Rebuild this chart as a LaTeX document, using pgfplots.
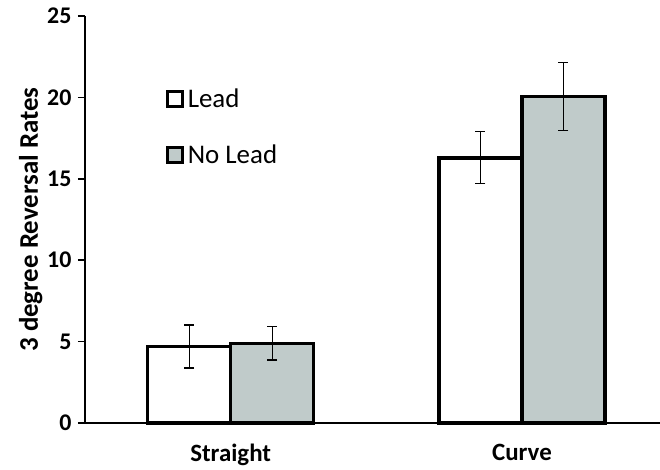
\documentclass[border=0pt]{standalone}
\usepackage{pgfplots}
\pgfplotsset{compat=1.18}
\usepackage{fontspec}
\setmainfont{Carlito}
\definecolor{nolead}{RGB}{192,203,202}
\begin{document}
\begin{tikzpicture}
\path[use as bounding box] (-85bp,-47bp) rectangle (575bp,423bp);
\begin{axis}[
  scale only axis,
  width=575bp, height=407bp,
  at={(0,0)}, anchor=south west,
  xmin=-0.5, xmax=1.474,
  ymin=0, ymax=25,
  ytick={0,5,10,15,20,25},
  xtick={0,1},
  xticklabels={Straight,Curve},
  major x tick style={draw=none},
  extra x ticks={-0.5,0.5},
  extra x tick labels={},
  extra x tick style={major tick length=7bp, tick style={draw=black, line width=1.5bp}},
  axis x line=bottom, axis y line=left,
  axis line style={-, line width=1.8bp},
  tick align=outside,
  major tick length=7bp,
  tick style={line width=1.5bp, black},
  ybar=0pt, bar width=83bp,
  yticklabel={\textbf{\pgfmathprintnumber{\tick}}},
  ticklabel style={font=\fontsize{24}{28}\selectfont\bfseries},
  yticklabel style={xshift=-3bp},
  xticklabel style={yshift=-11bp, font=\fontsize{25}{29}\selectfont\bfseries},
  ylabel={3 degree Reversal Rates},
  ylabel style={font=\fontsize{27}{31}\selectfont\bfseries, yshift=-2bp},
  legend style={draw=none, fill=none, at={(0.135,0.832)}, anchor=north west,
    font=\fontsize{27}{31}\selectfont, row sep=32bp, legend cell align=left,
    /tikz/every odd column/.append style={column sep=2bp}},
  legend image code/.code={\draw[#1, line width=3bp] (0bp,-7.5bp) rectangle (15bp,7.5bp);},
  /pgf/number format/assume math mode=true,
  clip=false,
]
\addplot[draw=black, fill=white, line width=3.5bp,
  error bars/.cd, y dir=both, y explicit,
  error bar style={line width=1.2bp, black},
  error mark options={rotate=90, mark size=5bp, line width=1.2bp, black}]
  coordinates {(0,4.70) +- (0,1.32) (1,16.29) +- (0,1.60)};
\addplot[draw=black, fill=nolead, line width=3.5bp,
  error bars/.cd, y dir=both, y explicit,
  error bar style={line width=1.2bp, black},
  error mark options={rotate=90, mark size=5bp, line width=1.2bp, black}]
  coordinates {(0,4.89) +- (0,1.02) (1,20.04) +- (0,2.09)};
\legend{Lead,No Lead}
\end{axis}
\end{tikzpicture}
\end{document}
